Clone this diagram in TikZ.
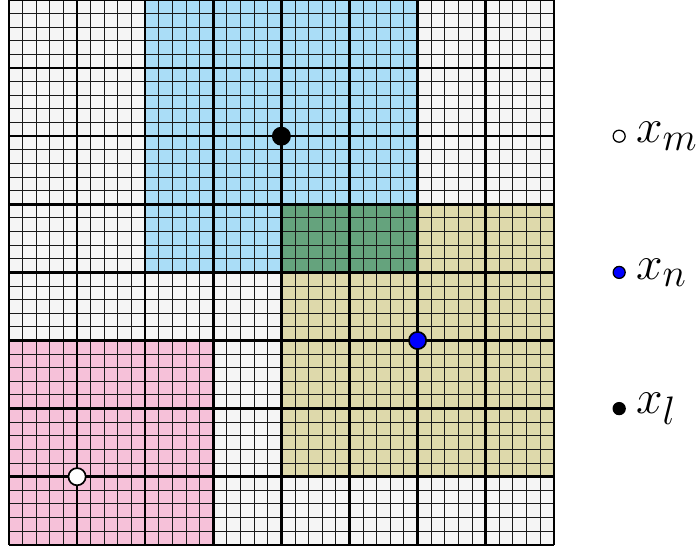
\documentclass[tikz,border=0pt]{standalone}
\usepackage{tikz}
\usepackage{xcolor}
\usetikzlibrary{positioning}
\definecolor{cellgray}{RGB}{245,245,245}
\definecolor{cellblue}{RGB}{170,221,247}
\definecolor{cellgreen}{RGB}{101,163,125}
\definecolor{cellolive}{RGB}{222,217,171}
\definecolor{cellpink}{RGB}{246,193,217}
\tikzset{
    fine/.style={line width=0.7pt, draw=black!90},
    coarse/.style={line width=1.8pt, draw=black},
    dot/.style={circle, draw=black, line width=1.2pt, minimum size=4.3mm, inner sep=0pt},
    keydot/.style={circle, draw=black, line width=0.9pt, minimum size=3mm, inner sep=0pt},
    keylabel/.style={font=\Huge, scale=1.36, transform shape, inner sep=1pt}
}

\begin{document}
\begin{tikzpicture}[x=1.7cm, y=1.7cm]
\useasboundingbox (-0.132,-0.117) rectangle (10.147,8.0);

% Regions
\fill[cellgray] (0,0) rectangle (8,8);
\fill[cellblue] (2,4) rectangle (6,8);
\fill[cellolive] (4,1) rectangle (8,5);
\fill[cellgreen] (4,4) rectangle (6,5);
\fill[cellpink] (0,0) rectangle (3,3);

% Grids
\draw[fine] (0,0) grid[step={(0.2,0.2)}] (8,8);
\draw[coarse] (0,0) grid[step={(1,1)}] (8,8);

% Points
\node[dot, fill=black] (l) at (4,6) {};
\node[dot, fill=blue] (n) at (6,3) {};
\node[dot, fill=white] (m) at (1,1) {};

% Legend
\node[keydot, fill=white] (keym) at (8.96,6) {};
\node[keydot, fill=blue] (keyn) at (8.96,4) {};
\node[keydot, fill=black] (keyl) at (8.96,2) {};
\node[keylabel, right=0.2cm of keym] (labelm) {$x_m$};
\node[keylabel, right=0.2cm of keyn] (labeln) {$x_n$};
\node[keylabel, right=0.2cm of keyl] (labell) {$x_l$};

\end{tikzpicture}
\end{document}
